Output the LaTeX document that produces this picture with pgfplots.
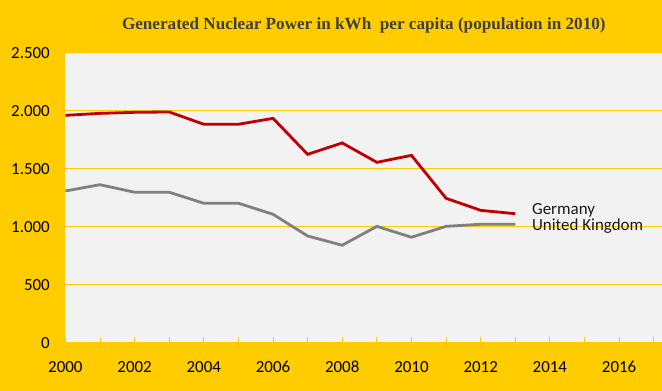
\documentclass[border=0pt]{standalone}
\usepackage{pgfplots}
\pgfplotsset{compat=1.18}
\usepackage{fontspec}
\setmainfont{Carlito}
\newfontfamily\titlefont{Liberation Serif}
\definecolor{bgyellow}{HTML}{FFCC00}
\definecolor{plotbg}{HTML}{F2F2F2}
\definecolor{deRed}{HTML}{C00000}
\definecolor{ukGray}{HTML}{808080}
\definecolor{titlegray}{HTML}{404040}
\begin{document}
\begin{tikzpicture}
\fill[bgyellow] (0,0) rectangle (662bp,391bp);
\useasboundingbox (0,0) rectangle (662bp,391bp);
\node[font=\titlefont\bfseries\fontsize{17.2}{20}\selectfont, text=titlegray, anchor=center, inner sep=0pt] at (363.8bp,365.3bp) {Generated Nuclear Power in kWh\ \ per capita (population in 2010)};
\begin{axis}[
  at={(65.4bp,48.3bp)}, anchor=south west,
  scale only axis, width=596.6bp, height=290bp,
  xmin=2000, xmax=2017.24, ymin=0, ymax=2500,
  axis background/.style={fill=plotbg},
  axis line style={draw=none},
  xtick={2000,2002,...,2016},
  minor xtick={2001,2003,...,2017},
  ytick={0,500,...,2500},
  xtick pos=bottom, tick align=inside,
  x tick style={color=bgyellow, line width=0.8bp},
  major tick length=6bp, minor tick length=6bp,
  y tick style={draw=none},
  ymajorgrids, grid style={color=bgyellow, line width=1bp},
  /pgf/number format/assume math mode=true,
  /pgf/number format/1000 sep={.},
  xticklabel style={/pgf/number format/1000 sep={}, anchor=center, yshift=-24bp, inner sep=0pt},
  yticklabel style={anchor=east, inner sep=0pt, xshift=-15.4bp},
  tick label style={font=\fontsize{17}{20}\selectfont, text=black},
  clip=false,
]
\addplot[deRed, line width=2.8bp] coordinates {
(2000,1960) (2001,1977) (2002,1986) (2003,1989) (2004,1883) (2005,1883) (2006,1934) (2007,1624) (2008,1722) (2009,1555) (2010,1615) (2011,1245) (2012,1141) (2013,1112)};
\addplot[ukGray, line width=2.8bp] coordinates {
(2000,1308) (2001,1362) (2002,1297) (2003,1297) (2004,1202) (2005,1202) (2006,1107) (2007,920) (2008,840) (2009,1003) (2010,909) (2011,1003) (2012,1021) (2013,1021)};
\node[anchor=base west, inner sep=0pt, font=\fontsize{17}{20}\selectfont, text=black!90] at (axis cs:2013.48,1107) {Germany};
\node[anchor=base west, inner sep=0pt, font=\fontsize{17}{20}\selectfont, text=black!90] at (axis cs:2013.48,969) {United Kingdom};
\end{axis}
\end{tikzpicture}
\end{document}
